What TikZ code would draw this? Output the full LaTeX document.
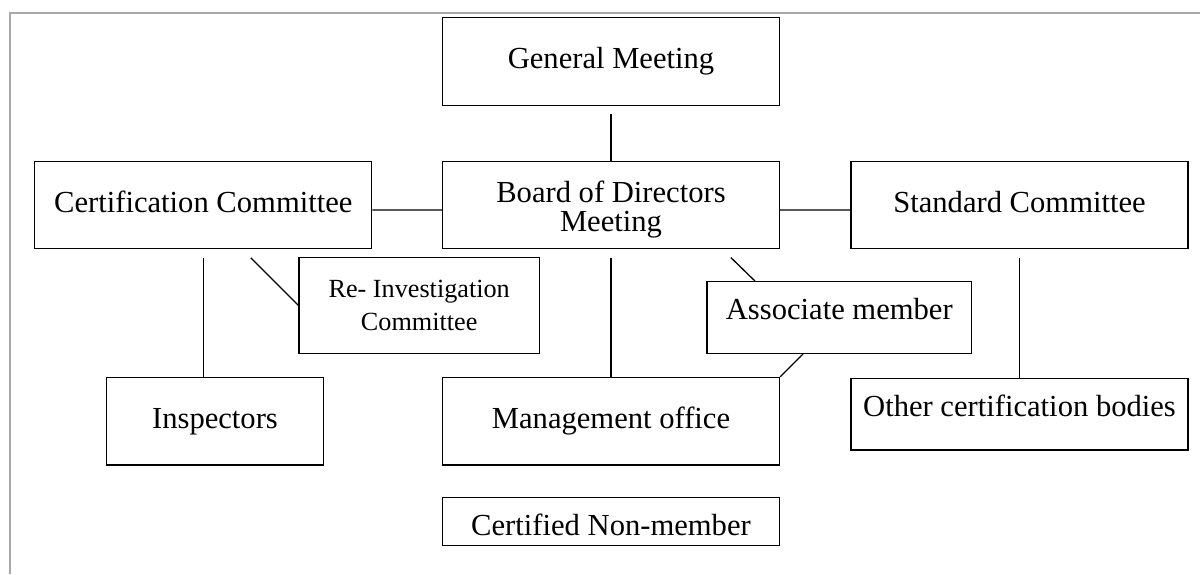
\documentclass[tikz,border=0pt]{standalone}
\usepackage{fontspec}
\setmainfont{Liberation Serif}
\usetikzlibrary{calc}
\usetikzlibrary{positioning}

\definecolor{framegray}{RGB}{168,168,168}

\begin{document}
\begin{tikzpicture}[
	x=0.5pt, y=-0.5pt,
	box/.style = {draw,line width=0.65pt,inner sep=0pt,align=center,font=\fontsize{15.3}{14.5}\selectfont},
	oneline/.style = {text height=11pt,text depth=4.1pt},
	highline/.style = {text height=11pt,text depth=9.2pt},
	lowline/.style = {text height=14pt,text depth=0.4pt},
	smallbox/.style = {font=\fontsize{13.1}{16.5}\selectfont},
	link/.style = {line width=0.65pt,shorten <=4.15pt},
	frame/.style = {draw=framegray,line width=0.7pt}
	]
	\useasboundingbox (0,0) rectangle (1200,574);
	\draw[frame] (10,574) |- (1200,13);

	\coordinate (@gm) at (611,61.2);
	\coordinate (@bod) at (611,205.2);
	\coordinate (@cc) at (203.3,205.3);
	\coordinate (@sc) at (1019.5,205.3);
	\coordinate (@ric) at (419.2,305.3);
	\coordinate (@am) at (839.3,317.5);
	\coordinate (@insp) at (215,421.3);
	\coordinate (@mo) at (611,421.2);
	\coordinate (@ocb) at (1019.5,414.2);
	\coordinate (@cnm) at (611,521.5);

	\node[box,oneline,minimum width=168.5pt,minimum height=44pt] (gm) at (@gm) {General Meeting};
	\node[box,minimum width=168.5pt,minimum height=43.5pt] (bod) at (@bod) {\rule{0pt}{15.4pt}Board of Directors\\Meeting};
	\node[box,oneline,minimum width=168.5pt,minimum height=43.5pt] (cc) at (@cc) {Certification Committee};
	\node[box,oneline,minimum width=168.5pt,minimum height=43.5pt] (sc) at (@sc) {Standard Committee};
	\node[box,smallbox,minimum width=120.25pt,minimum height=48pt] (ric) at (@ric) {Re- Investigation\\Committee};
	\node[box,highline,minimum width=132.3pt,minimum height=35.8pt] (am) at (@am) {Associate member};
	\node[box,oneline,minimum width=108.3pt,minimum height=43.6pt] (insp) at (@insp) {Inspectors};
	\node[box,oneline,minimum width=168.5pt,minimum height=43.7pt] (mo) at (@mo) {Management office};
	\node[box,highline,minimum width=168.5pt,minimum height=35.8pt] (ocb) at (@ocb) {Other certification bodies};
	\node[box,lowline,minimum width=168.5pt,minimum height=24.2pt] (cnm) at (@cnm) {Certified Non-member};

	\draw[link] (gm.south) -- (bod.north);
	\draw[link,shorten <=0pt] ([yshift=-2.35pt]cc.east) -- ([yshift=-2.35pt]bod.west);
	\draw[link,shorten <=0pt] ([yshift=-2.35pt]bod.east) -- ([yshift=-2.35pt]sc.west);
	\draw[link] (bod.south) -- (mo.north);
	\draw[link] (sc.south) -- (ocb.north);
	\draw[link] (cc.south) -- (cc.south |- insp.north);
	\draw[link,shorten <=5.9pt] ([xshift=19.55pt]cc.south) -- (ric.west);
	\draw[link,shorten <=5.9pt] ([xshift=55.7pt]bod.south) -- ([xshift=-42.15pt]am.north);
	\draw[link,shorten <=0pt] ([xshift=-18.15pt]am.south) -- (mo.north east);

\end{tikzpicture}
\end{document}
